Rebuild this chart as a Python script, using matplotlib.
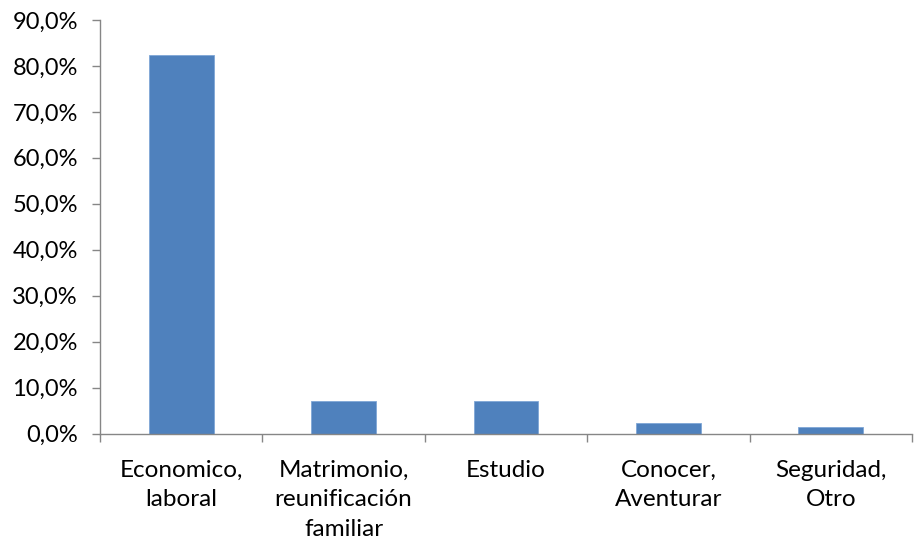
import numpy as np
import matplotlib
matplotlib.use("Agg")
import matplotlib.pyplot as plt
from matplotlib.ticker import FuncFormatter

categories = ["Economico,\nlaboral", "Matrimonio,\nreunificación\nfamiliar",
              "Estudio", "Conocer,\nAventurar", "Seguridad,\nOtro"]
values = [82.4, 7.1, 7.0, 2.2, 1.4]
y_ticks = [0, 10, 20, 30, 40, 50, 60, 70, 80, 90]

plt.rcParams['font.family'] = ['Lato', 'DejaVu Sans']

fig = plt.figure(figsize=(9.14, 5.44), dpi=100)
ax = fig.add_axes([100 / 914, 1 - 433.5 / 544, 812 / 914, 413.5 / 544])

x = np.arange(len(categories))
ax.bar(x, values, width=0.4, color="#4f81bd", edgecolor="#7fa6d6", linewidth=0.6)

ax.set_xlim(-0.5, len(categories) - 0.5)
ax.set_ylim(0, 90)
ax.set_yticks(y_ticks)
ax.yaxis.set_major_formatter(FuncFormatter(lambda v, p: f"{v:.1f}%".replace(".", ",")))

# category labels centred, ticks on the boundaries
ax.set_xticks(x)
ax.set_xticklabels(categories, fontsize=17.5, linespacing=1.5, va="top")
ax.tick_params(axis="x", which="major", length=0, pad=19)
ax.set_xticks(np.arange(len(categories) + 1) - 0.5, minor=True)
ax.tick_params(axis="x", which="minor", length=6, color="#868686", width=1)

ax.tick_params(axis="y", length=6, color="#868686", width=1, labelsize=17, pad=10)

for s in ["top", "right"]:
    ax.spines[s].set_visible(False)
for s in ["left", "bottom"]:
    ax.spines[s].set_color("#868686")
    ax.spines[s].set_linewidth(1)

fig.savefig("out.png", dpi=100)
